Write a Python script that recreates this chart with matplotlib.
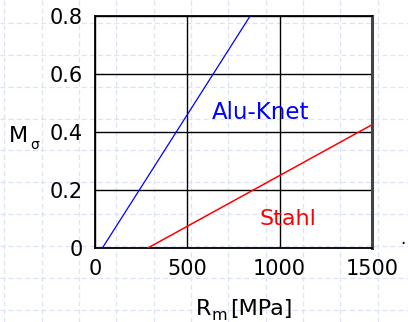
import matplotlib
matplotlib.use("Agg")
import matplotlib.pyplot as plt
import numpy as np

# Data
alu_rm = [40, 840]
alu_m = [0.0, 0.8]
stahl_rm = [286, 1500]
stahl_m = [0.0, 0.425]
xticks = [0, 500, 1000, 1500]
yticks = [0, 0.2, 0.4, 0.6, 0.8]
ytick_labels = ["0", "0.2", "0.4", "0.6", "0.8"]

W, H = 408, 322
fig = plt.figure(figsize=(W / 100, H / 100), dpi=100)
fig.patch.set_facecolor("white")

def px(x, y):
    return (x / W, 1 - y / H)

# background dashed slide grid
bg = fig.add_axes([0, 0, 1, 1], zorder=0)
bg.set_xlim(0, W)
bg.set_ylim(H, 0)
bg.axis("off")
for x in np.arange(4.3, W, 37.35):
    bg.axvline(x, color="#dde3f6", lw=0.9, dashes=(4, 2.5))
for y in np.arange(23, H, 31.85):
    bg.axhline(y, color="#dde3f6", lw=0.9, dashes=(4, 2.5))

ax = fig.add_axes([95 / W, 1 - 248 / H, (372 - 95) / W, (248 - 16) / H], zorder=1)
ax.patch.set_alpha(0)
ax.set_xlim(0, 1500)
ax.set_ylim(0, 0.8)
ax.plot(alu_rm, alu_m, color="#0000ff", lw=0.9, zorder=3)
ax.plot(stahl_rm, stahl_m, color="#ff0000", lw=1.1, zorder=3)

ax.set_xticks(xticks)
ax.set_yticks(yticks)
ax.set_yticklabels(ytick_labels)
ax.tick_params(length=0, labelsize=15, colors="black")
ax.tick_params(axis="x", pad=8)
ax.tick_params(axis="y", pad=9)
ax.grid(True, color="black", lw=1.0)
for s in ["left", "bottom", "top"]:
    ax.spines[s].set_color("black")
    ax.spines[s].set_linewidth(1.3)
ax.spines["right"].set_color("#444444")
ax.spines["right"].set_linewidth(2.2)

fig.text(*px(260, 113), "Alu-Knet", color="#0000ff", fontsize=16.5, ha="center", va="center")
fig.text(*px(288, 219), "Stahl", color="#ff0000", fontsize=16, ha="center", va="center")

# axis labels
fig.text(*px(9, 141.5), "M", fontsize=16, ha="left", va="baseline")
fig.text(*px(30, 149), "σ", fontsize=10, ha="left", va="baseline")
fig.text(*px(196, 315), "R", fontsize=16, ha="left", va="baseline")
fig.text(*px(211, 319.5), "m", fontsize=11.5, ha="left", va="baseline")
fig.text(*px(230, 315), "[MPa]", fontsize=16, ha="left", va="baseline")
fig.text(*px(403, 239), ".", fontsize=12, ha="center", va="center")

fig.savefig("out.png", dpi=100)
